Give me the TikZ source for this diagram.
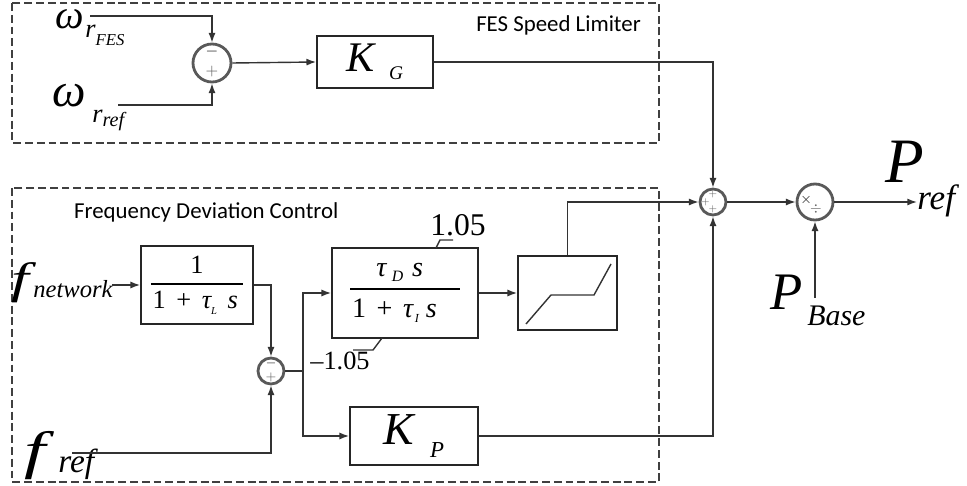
\documentclass[tikz,border=0pt]{standalone}
\usepackage{fontspec}
\setmainfont{Carlito}
\newfontfamily\tms{Liberation Serif}
\usetikzlibrary{arrows.meta,positioning}
\newcommand{\fsz}[1]{\fontsize{#1}{#1}\selectfont}

\begin{document}
\begin{tikzpicture}[x=0.02cm, y=-0.02cm,
    wire/.style={draw=black!80, line width=0.8pt},
    sig/.style={wire, -{Latex[length=5.5pt,width=4pt]}},
    block/.style={draw=black!85, line width=1pt, inner sep=0pt, font=\tms},
    sumpt/.style={circle, draw=black!65, line width=1.6pt, inner sep=0pt},
    sgn/.style={inner sep=0pt, text=black!60, font=\fsz{7}},
    region/.style={draw=black!75, line width=0.8pt, dash pattern=on 4.5pt off 2.2pt},
    var/.style={inner sep=0pt, anchor=base west, font=\tms\itshape},
  ]
  \useasboundingbox (0,0) rectangle (967,486);

  % dashed regions
  \draw[region] (12,3) rectangle (659,143);
  \draw[region] (12,188) rectangle (659,482);
  \node[anchor=east, font=\fsz{13}] (fesname) at (647,25) {FES Speed Limiter};
  \node[anchor=west, font=\fsz{13}] (fdcname) at (68,212) {Frequency Deviation Control};

  % FES speed limiter
  \node[var, text height=9pt] (wfes) at (55,29) {\tms\itshape\fsz{23}ω};
  \node[var] (wfessub) at (85,38) {\tms\itshape\fsz{15}r\raisebox{-4pt}{\fsz{9.5}FES}};
  \node[var, text height=12pt] (wref) at (52,107) {\tms\itshape\fsz{27}ω};
  \node[var] (wrefsub) at (92,123) {\tms\itshape\fsz{15}r\raisebox{-2pt}{\fsz{11.5}ref}};
  \coordinate (wfesend) at (90,16);
  \coordinate (wrefend) at (118,105);
  \node[sumpt, minimum size=0.76cm] (s1) at (212,63) {};
  \node[sgn, font=\fsz{9}, text=black!85] at ([yshift=6.5pt]s1.center) {$-$};
  \node[sgn, font=\fsz{9}] at ([yshift=-5pt]s1.center) {$+$};
  \node[block, minimum width=2.32cm, minimum height=1.04cm] (kg) at (375,62)
    {\fsz{24}\itshape K\hspace{8pt}\raisebox{-4.5pt}{\fsz{11}G}};

  % frequency deviation control
  \node[var] (fnet) at (11,294) {\tms\itshape\fsz{25}\scalebox{1.45}[1]{f}};
  \node[var] (fnetsub) at (33,297) {\tms\itshape\fsz{14}network};
  \node[var] (fref) at (24,468) {\tms\itshape\fsz{30}\scalebox{1.45}[1]{f}};
  \node[var] (frefsub) at (58,472) {\tms\itshape\fsz{19}ref};
  \coordinate (fnetend) at (112,285);
  \coordinate (frefend) at (72,453);
  \node[block, minimum width=2.24cm, minimum height=1.56cm] (lag) at (197,285)
    {\fsz{15}$\displaystyle{\mbox{1}\above1.2pt\mbox{\kern1pt 1\hspace{6pt}+\hspace{6pt}\itshape τ\raisebox{-3pt}{\fsz{6}L}\hspace{6pt}s\kern3pt}}$};
  \node[sumpt, minimum size=0.52cm] (s3) at (271,371) {};
  \node[sgn, text=black!85] at ([yshift=4.5pt]s3.center) {$-$};
  \node[sgn] at ([yshift=-3.5pt]s3.center) {$+$};
  \coordinate (branch) at (303,371);
  \node[block, minimum width=2.92cm, minimum height=1.8cm] (wash) at (405,293)
    {\fsz{16}$\displaystyle{\mbox{\itshape τ\hspace{3pt}\raisebox{-3pt}{\fsz{9}D}\hspace{5pt}s\kern6pt}\above1.2pt\mbox{\kern1pt 1\hspace{6pt}+\hspace{6pt}\itshape τ\hspace{1pt}\raisebox{-3pt}{\fsz{7}I}\hspace{4pt}s\kern13pt}}$};
  \draw[wire] (436,248) -- (440,240) -- (453,240);
  \draw[wire] (382,338) -- (373,350) -- (353,350);
  \node[font=\tms\fsz{18}, inner sep=0pt] (satmax) at (458,225) {1.05};
  \node[font=\tms\fsz{15}, inner sep=0pt] (satmin) at (340,361) {–1.05};
  \node[block, minimum width=1.98cm, minimum height=1.48cm] (dead) at (567.5,293) {};
  \draw[wire] (526,324) -- (551,295) -- (594,295) -- (611,264);
  \node[block, minimum width=2.56cm, minimum height=1.16cm] (kp) at (414,436)
    {\fsz{26}\itshape K\hspace{9pt}\raisebox{-7.4pt}{\fsz{13}P}};

  % summing and scaling
  \node[sumpt, minimum size=0.52cm] (s2) at (713,202) {};
  \node[sgn, font=\fsz{5.5}] at ([yshift=4.6pt]s2.center) {$+$};
  \node[sgn, font=\fsz{5.5}] at ([xshift=-4.4pt]s2.center) {$+$};
  \node[sgn, font=\fsz{5.5}] at ([yshift=-4.2pt]s2.center) {$+$};
  \node[sumpt, minimum size=0.72cm] (div) at (815,202) {};
  \node[sgn, font=\fsz{8}, text=black!85] at ([xshift=-5pt,yshift=1pt]div.center) {$\times$};
  \node[sgn, font=\fsz{8}] at ([xshift=0.5pt,yshift=-4pt]div.center) {$\div$};
  \coordinate (baseend) at (815,298);
  \coordinate (outend) at (917,202);
  \node[var] (pref) at (885,183) {\tms\itshape\fsz{36}P};
  \node[var] (prefsub) at (917,210) {\tms\itshape\fsz{20}ref};
  \node[var] (pbase) at (770,310) {\tms\itshape\fsz{30}P};
  \node[var] (pbasesub) at (807,325) {\tms\itshape\fsz{17}Base};

  % connections
  \draw[sig] (wfesend) -| (s1.north);
  \draw[sig] (wrefend) -| (s1.south);
  \draw[sig] (s1.east) -- (kg.west);
  \draw[sig] (kg.east) -| (s2.north);
  \draw[sig] (fnetend) -- (lag.west);
  \draw[sig] (lag.east) -| (s3.north);
  \draw[sig] (frefend) -| (s3.south);
  \draw[wire] (s3.east) -- (branch);
  \draw[sig] (branch) |- (wash.west);
  \draw[sig] (branch) |- (kp.west);
  \draw[sig] (wash.east) -- (dead.west);
  \draw[sig] (dead.north) |- (s2.west);
  \draw[sig] (kp.east) -| (s2.south);
  \draw[sig] (s2.east) -- (div.west);
  \draw[sig] (baseend) -- (div.south);
  \draw[sig] (div.east) -- (outend);
\end{tikzpicture}
\end{document}
